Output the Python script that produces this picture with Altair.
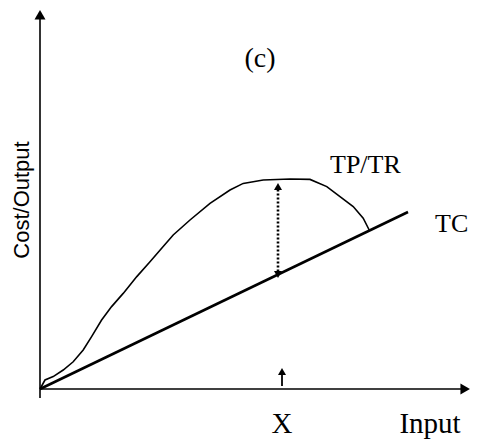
import altair as alt
import pandas as pd

# ---- data (abstract units: input on x, cost/output on y) ----
tp_input = [0, 1.25, 3.3, 5.8, 8.3, 10.8, 12.9, 15.4, 17.9, 20.8, 24.2, 27.5, 30.8,
            33.3, 37.5, 42.5, 47.5, 50.8, 55.8, 62.5, 67.5, 71.7, 75, 78.3, 80.8, 82.3]
tp_output = [0, 2.25, 3.1, 4.75, 6.8, 9.75, 13.1, 17.25, 20.6, 23.9, 28.1, 31.8, 35.6,
             38.5, 42.25, 46.4, 49.75, 51.4, 52.25, 52.5, 52.4, 50.6, 48.1, 45.6, 42.7, 39.75]
tc_input = [0, 92]
tc_cost = [0, 44.25]

gap_x = 59.5          # position of the dotted TP-TC gap arrow
gap_low, gap_high = 27.75, 51.5
x_mark = 60.5         # the input level X
axis_x_end, axis_y_end = 107.5, 94.75

labels = ["(c)", "X", "Input", "TP/TR", "TC"]

XS = alt.Scale(domain=[-8, 108], nice=False, zero=False)
YS = alt.Scale(domain=[-12.75, 95.25], nice=False, zero=False)


def X(f="x"):
    return alt.X(f"{f}:Q", scale=XS, axis=None)


def Y(f="y"):
    return alt.Y(f"{f}:Q", scale=YS, axis=None)


# axes (drawn as rules with arrowheads)
axes_df = pd.DataFrame({
    "x": [0, 0], "y": [-2.25, 0],
    "x2": [0, axis_x_end - 2.0], "y2": [axis_y_end - 2.0, 0],
})
axes = alt.Chart(axes_df).mark_rule(color="black", strokeWidth=1.6).encode(
    x=X(), y=Y(), x2="x2:Q", y2="y2:Q")

# TC straight line
tc_df = pd.DataFrame({"x": tc_input, "y": tc_cost})
tc = alt.Chart(tc_df).mark_line(color="black", strokeWidth=2.6).encode(x=X(), y=Y())

# TP/TR curve
tp_df = pd.DataFrame({"x": tp_input, "y": tp_output, "o": list(range(len(tp_input)))})
tp = alt.Chart(tp_df).mark_line(color="black", strokeWidth=1.6).encode(
    x=X(), y=Y(), order="o:Q")

# dotted double arrow shaft
gap_df = pd.DataFrame({"x": [gap_x], "y": [gap_low + 1.6], "y2": [gap_high - 1.6]})
gap = alt.Chart(gap_df).mark_rule(color="black", strokeWidth=2.6, strokeDash=[2, 2]).encode(
    x=X(), y=Y(), y2="y2:Q")

# small arrow above X
small_df = pd.DataFrame({"x": [x_mark], "y": [0.75], "y2": [4.2]})
small = alt.Chart(small_df).mark_rule(color="black", strokeWidth=1.8).encode(
    x=X(), y=Y(), y2="y2:Q")

# arrowheads
heads_df = pd.DataFrame({
    "x": [0, axis_x_end - 1.2, x_mark, gap_x, gap_x],
    "y": [axis_y_end - 1.2, 0, 5.25 - 0.87, gap_high - 0.87, gap_low + 0.87],
    "shape": ["triangle-up", "triangle-right", "triangle-up", "triangle-up", "triangle-down"],
    "size": [121, 121, 64, 64, 64],
})
heads = alt.Chart(heads_df).mark_point(filled=True, color="black", opacity=1, strokeWidth=0).encode(
    x=X(), y=Y(),
    shape=alt.Shape("shape:N", scale=None, legend=None),
    size=alt.Size("size:Q", scale=None, legend=None),
)

# text labels
serif_df = pd.DataFrame({
    "x": [55, x_mark, 97.5, 72.5, 98.75],
    "y": [80.5, -11, -11, 54, 39.25],
    "t": labels,
    "a": ["center", "center", "center", "left", "left"],
    "fs": [28, 29, 29, 26, 26],
})
t_center = alt.Chart(serif_df[serif_df.a == "center"]).mark_text(
    font="Liberation Serif", color="black", align="center", baseline="alphabetic"
).encode(x=X(), y=Y(), text="t:N", size=alt.Size("fs:Q", scale=None, legend=None))
t_left = alt.Chart(serif_df[serif_df.a == "left"]).mark_text(
    font="Liberation Serif", color="black", align="left", baseline="alphabetic"
).encode(x=X(), y=Y(), text="t:N", size=alt.Size("fs:Q", scale=None, legend=None))

ylab_df = pd.DataFrame({"x": [-4.5], "y": [47.25], "t": ["Cost/Output"]})
ylab = alt.Chart(ylab_df).mark_text(
    font="Liberation Sans", fontSize=22, color="black", angle=270, align="center", baseline="middle"
).encode(x=X(), y=Y(), text="t:N")

chart = alt.layer(axes, tc, tp, gap, small, heads, t_center, t_left, ylab).properties(
    width=464, height=432,
    autosize=alt.AutoSizeParams(type="none"),
    padding=0,
    background="white",
).configure_view(stroke=None)

chart.save("out.html", embed_options={"renderer": "svg", "actions": False})
